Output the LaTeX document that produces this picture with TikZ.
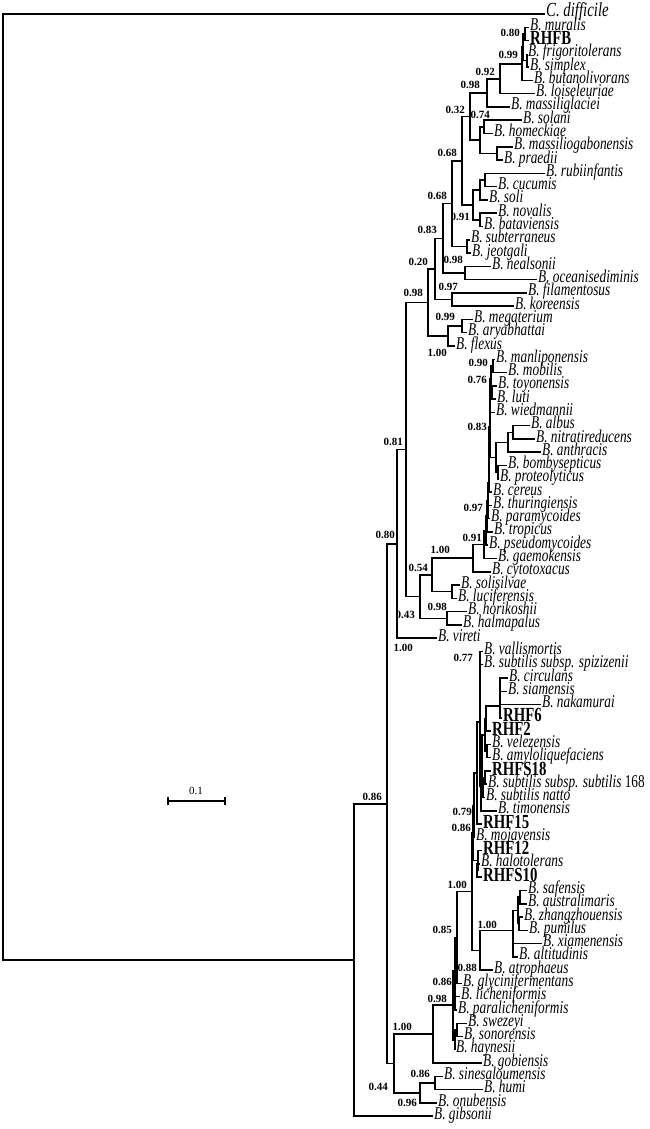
\documentclass[tikz,border=0pt]{standalone}
\usepackage{fontspec}
\setmainfont{Liberation Serif}
\newfontfamily\treefont[FakeStretch=0.74]{Liberation Serif}
\usetikzlibrary{positioning}
\tikzset{
  taxon/.style={anchor=west,inner sep=1pt,text height=0.6em,text depth=0pt,
    font=\treefont\itshape\fontsize{18}{18}\selectfont},
  isolate/.style={anchor=west,inner sep=1pt,text height=0.8em,text depth=0pt,
    font=\treefont\bfseries\fontsize{20}{20}\selectfont},
  boot/.style={anchor=east,inner sep=0pt,font=\bfseries\fontsize{11}{11}\selectfont},
  branch/.style={line width=1.5pt},
}
\begin{document}
\begin{tikzpicture}[x=1pt,y=-1pt]
  \useasboundingbox (0,0) rectangle (650,1129);
  % leaves
  \node[taxon,font=\treefont\itshape\fontsize{20}{20}\selectfont] (difficile) at (545,14.0) {C. difficile};
  \node[taxon] (muralis) at (529,27.3) {B. muralis};
  \node[isolate] (RHFB) at (529,40.6) {RHFB};
  \node[taxon] (frigoritolerans) at (527,53.8) {B. frigoritolerans};
  \node[taxon] (simplex) at (529,67.1) {B. simplex};
  \node[taxon] (butanolivorans) at (533,80.4) {B. butanolivorans};
  \node[taxon] (loiseleuriae) at (535,93.7) {B. loiseleuriae};
  \node[taxon] (massiliglaciei) at (510,107.0) {B. massiliglaciei};
  \node[taxon] (solani) at (522,120.2) {B. solani};
  \node[taxon] (homeckiae) at (493,133.5) {B. homeckiae};
  \node[taxon] (massiliogabonensis) at (513,146.8) {B. massiliogabonensis};
  \node[taxon] (praedii) at (503,160.1) {B. praedii};
  \node[taxon] (rubiinfantis) at (545,173.4) {B. rubiinfantis};
  \node[taxon] (cucumis) at (497,186.6) {B. cucumis};
  \node[taxon] (soli) at (488,199.9) {B. soli};
  \node[taxon] (novalis) at (497,213.2) {B. novalis};
  \node[taxon] (bataviensis) at (483,226.5) {B. bataviensis};
  \node[taxon] (subterraneus) at (470,239.8) {B. subterraneus};
  \node[taxon] (jeotgali) at (471,253.0) {B. jeotgali};
  \node[taxon] (nealsonii) at (491,266.3) {B. nealsonii};
  \node[taxon] (oceanisediminis) at (537,279.6) {B. oceanisediminis};
  \node[taxon] (filamentosus) at (527,292.9) {B. filamentosus};
  \node[taxon] (koreensis) at (514,306.2) {B. koreensis};
  \node[taxon] (megaterium) at (473,319.4) {B. megaterium};
  \node[taxon] (aryabhattai) at (467,332.7) {B. aryabhattai};
  \node[taxon] (flexus) at (455,346.0) {B. flexus};
  \node[taxon] (manliponensis) at (495,359.3) {B. manliponensis};
  \node[taxon] (mobilis) at (507,372.6) {B. mobilis};
  \node[taxon] (toyonensis) at (497,385.8) {B. toyonensis};
  \node[taxon] (luti) at (496,399.1) {B. luti};
  \node[taxon] (wiedmannii) at (495,412.4) {B. wiedmannii};
  \node[taxon] (albus) at (530,425.7) {B. albus};
  \node[taxon] (nitratireducens) at (535,439.0) {B. nitratireducens};
  \node[taxon] (anthracis) at (541,452.2) {B. anthracis};
  \node[taxon] (bombysepticus) at (507,465.5) {B. bombysepticus};
  \node[taxon] (proteolyticus) at (499,478.8) {B. proteolyticus};
  \node[taxon] (cereus) at (492,492.1) {B. cereus};
  \node[taxon] (thuringiensis) at (492,505.4) {B. thuringiensis};
  \node[taxon] (paramycoides) at (490,518.6) {B. paramycoides};
  \node[taxon] (tropicus) at (493,531.9) {B. tropicus};
  \node[taxon] (pseudomycoides) at (488,545.2) {B. pseudomycoides};
  \node[taxon] (gaemokensis) at (497,558.5) {B. gaemokensis};
  \node[taxon] (cytotoxacus) at (491,571.8) {B. cytotoxacus};
  \node[taxon] (solisilvae) at (460,585.0) {B. solisilvae};
  \node[taxon] (luciferensis) at (457,598.3) {B. luciferensis};
  \node[taxon] (horikoshii) at (467,611.6) {B. horikoshii};
  \node[taxon] (halmapalus) at (462,624.9) {B. halmapalus};
  \node[taxon] (vireti) at (437,638.2) {B. vireti};
  \node[taxon] (vallismortis) at (483,651.4) {B. vallismortis};
  \node[taxon] (spizizenii) at (483,664.7) {B. subtilis subsp. spizizenii};
  \node[taxon] (circulans) at (508,678.0) {B. circulans};
  \node[taxon] (siamensis) at (507,691.3) {B. siamensis};
  \node[taxon] (nakamurai) at (541,704.6) {B. nakamurai};
  \node[isolate] (RHF6) at (502,717.8) {RHF6};
  \node[isolate] (RHF2) at (491,731.1) {RHF2};
  \node[taxon] (velezensis) at (491,744.4) {B. velezensis};
  \node[taxon] (amyloliquefaciens) at (491,757.7) {B. amyloliquefaciens};
  \node[isolate] (RHFS18) at (491,771.0) {RHFS18};
  \node[taxon] (subtilis168) at (487,784.2) {B. subtilis subsp. subtilis {\upshape 168}};
  \node[taxon] (natto) at (485,797.5) {B. subtilis natto};
  \node[taxon] (timonensis) at (497,810.8) {B. timonensis};
  \node[isolate] (RHF15) at (482,824.1) {RHF15};
  \node[taxon] (mojavensis) at (475,837.4) {B. mojavensis};
  \node[isolate] (RHF12) at (482,850.6) {RHF12};
  \node[taxon] (halotolerans) at (480,863.9) {B. halotolerans};
  \node[isolate] (RHFS10) at (482,877.2) {RHFS10};
  \node[taxon] (safensis) at (527,890.5) {B. safensis};
  \node[taxon] (australimaris) at (527,903.8) {B. australimaris};
  \node[taxon] (zhangzhouensis) at (523,917.0) {B. zhangzhouensis};
  \node[taxon] (pumilus) at (528,930.3) {B. pumilus};
  \node[taxon] (xiamenensis) at (542,943.6) {B. xiamenensis};
  \node[taxon] (altitudinis) at (518,956.9) {B. altitudinis};
  \node[taxon] (atrophaeus) at (493,970.2) {B. atrophaeus};
  \node[taxon] (glycinifermentans) at (462,983.4) {B. glycinifermentans};
  \node[taxon] (licheniformis) at (460,996.7) {B. licheniformis};
  \node[taxon] (paralicheniformis) at (457,1010.0) {B. paralicheniformis};
  \node[taxon] (swezeyi) at (467,1023.3) {B. swezeyi};
  \node[taxon] (sonorensis) at (463,1036.6) {B. sonorensis};
  \node[taxon] (haynesii) at (455,1049.8) {B. haynesii};
  \node[taxon] (gobiensis) at (482,1063.1) {B. gobiensis};
  \node[taxon] (sinesaloumensis) at (443,1076.4) {B. sinesaloumensis};
  \node[taxon] (humi) at (483,1089.7) {B. humi};
  \node[taxon] (onubensis) at (437,1103.0) {B. onubensis};
  \node[taxon] (gibsonii) at (433,1116.2) {B. gibsonii};
  % internal nodes
  \coordinate (nB) at (525,34.0);
  \coordinate (nB2) at (527,60.5);
  \coordinate (nB0) at (523,47.2);
  \coordinate (nA) at (522,63.8);
  \coordinate (nC) at (500,78.8);
  \coordinate (nD) at (487,92.9);
  \coordinate (nG) at (484,126.9);
  \coordinate (nH) at (497,153.5);
  \coordinate (nF) at (480,140.2);
  \coordinate (nE) at (470,116.6);
  \coordinate (nN1) at (485,180.0);
  \coordinate (nN2) at (480,190.0);
  \coordinate (nL) at (480,219.9);
  \coordinate (nM) at (473,204.9);
  \coordinate (nI) at (462,160.8);
  \coordinate (nK) at (467,246.4);
  \coordinate (nO) at (452,203.6);
  \coordinate (nQ) at (465,273.0);
  \coordinate (nP) at (443,238.3);
  \coordinate (nR) at (452,299.6);
  \coordinate (nV) at (435,268.9);
  \coordinate (nS) at (462,326.1);
  \coordinate (nT) at (448,336.0);
  \coordinate (nU) at (428,302.5);
  \coordinate (c1) at (493,366.0);
  \coordinate (c2) at (492,392.5);
  \coordinate (c3) at (491,379.2);
  \coordinate (c4) at (490,395.8);
  \coordinate (nAN1) at (513,432.4);
  \coordinate (nAN) at (508,442.3);
  \coordinate (nBP2) at (498,472.2);
  \coordinate (nBP1) at (496,457.3);
  \coordinate (c5) at (490,426.5);
  \coordinate (cA) at (489,459.3);
  \coordinate (cB) at (488.5,482.4);
  \coordinate (cC) at (488,500.5);
  \coordinate (cD) at (487,516.2);
  \coordinate (cE) at (486,530.7);
  \coordinate (nGM) at (484,544.6);
  \coordinate (nCC) at (473,558.2);
  \coordinate (nSL) at (452,591.7);
  \coordinate (nSC) at (432,575.0);
  \coordinate (nHH) at (447,618.3);
  \coordinate (nHN) at (420,596.6);
  \coordinate (nW) at (406,449.6);
  \coordinate (nY) at (397,543.9);
  \coordinate (s1) at (480,658.1);
  \coordinate (s2) at (500,684.7);
  \coordinate (s3) at (500,694.6);
  \coordinate (s4) at (500,706.2);
  \coordinate (s5) at (486,718.7);
  \coordinate (s6) at (487,751.0);
  \coordinate (s7) at (485,734.9);
  \coordinate (s8) at (485,777.6);
  \coordinate (s9) at (483,787.6);
  \coordinate (s10) at (482,761.3);
  \coordinate (s11) at (481,786.1);
  \coordinate (s12) at (480,722.1);
  \coordinate (f1) at (477,773.1);
  \coordinate (f2) at (474,805.3);
  \coordinate (f5a) at (477,870.6);
  \coordinate (f5) at (478,860.6);
  \coordinate (nSUB) at (473,833.0);
  \coordinate (p1) at (520,897.2);
  \coordinate (p2) at (519,923.7);
  \coordinate (nPG1) at (518,910.4);
  \coordinate (p3) at (513,950.3);
  \coordinate (nPG) at (513,930.4);
  \coordinate (nAT) at (480,950.3);
  \coordinate (nZ) at (472,891.6);
  \coordinate (n85) at (457,937.5);
  \coordinate (n86) at (455,970.4);
  \coordinate (g1) at (457,1030.0);
  \coordinate (g2) at (455,1039.9);
  \coordinate (g3) at (455,1003.4);
  \coordinate (nBB) at (453,1005.2);
  \coordinate (nAA) at (433,1034.1);
  \coordinate (n86c) at (435,1083.1);
  \coordinate (n96) at (420,1093.0);
  \coordinate (nLG) at (394,1063.6);
  \coordinate (nMain) at (387,803.8);
  \coordinate (nIn) at (354,960.0);
  \coordinate (root) at (3,487.0);
  % branches
  \draw[branch] (root) |- (difficile.west) (root) |- (nIn);
  \draw[branch] (nIn) |- (nMain) (nIn) |- (gibsonii.west);
  \draw[branch] (nMain) |- (nY) (nMain) |- (nLG);
  \draw[branch] (nY) |- (nW) (nY) |- (vireti.west);
  \draw[branch] (nW) |- (nU) (nW) |- (nHN);
  \draw[branch] (nU) |- (nV) (nU) |- (nT);
  \draw[branch] (nV) |- (nP) (nV) |- (nR);
  \draw[branch] (nP) |- (nO) (nP) |- (nQ);
  \draw[branch] (nO) |- (nI) (nO) |- (nK);
  \draw[branch] (nI) |- (nE) (nI) |- (nM);
  \draw[branch] (nE) |- (nD) (nE) |- (nF);
  \draw[branch] (nD) |- (nC) (nD) |- (massiliglaciei.west);
  \draw[branch] (nC) |- (nA) (nC) |- (loiseleuriae.west);
  \draw[branch] (nA) |- (nB0) (nA) |- (butanolivorans.west);
  \draw[branch] (nB0) |- (nB) (nB0) |- (nB2);
  \draw[branch] (nB) |- (muralis.west) (nB) |- (RHFB.west);
  \draw[branch] (nB2) |- (frigoritolerans.west) (nB2) |- (simplex.west);
  \draw[branch] (nF) |- (nG) (nF) |- (nH);
  \draw[branch] (nG) |- (solani.west) (nG) |- (homeckiae.west);
  \draw[branch] (nH) |- (massiliogabonensis.west) (nH) |- (praedii.west);
  \draw[branch] (nM) |- (nN2) (nM) |- (nL);
  \draw[branch] (nN2) |- (nN1) (nN2) |- (soli.west);
  \draw[branch] (nN1) |- (rubiinfantis.west) (nN1) |- (cucumis.west);
  \draw[branch] (nL) |- (novalis.west) (nL) |- (bataviensis.west);
  \draw[branch] (nK) |- (subterraneus.west) (nK) |- (jeotgali.west);
  \draw[branch] (nQ) |- (nealsonii.west) (nQ) |- (oceanisediminis.west);
  \draw[branch] (nR) |- (filamentosus.west) (nR) |- (koreensis.west);
  \draw[branch] (nT) |- (nS) (nT) |- (flexus.west);
  \draw[branch] (nS) |- (megaterium.west) (nS) |- (aryabhattai.west);
  \draw[branch] (nHN) |- (nSC) (nHN) |- (nHH);
  \draw[branch] (nHH) |- (horikoshii.west) (nHH) |- (halmapalus.west);
  \draw[branch] (nSC) |- (nCC) (nSC) |- (nSL);
  \draw[branch] (nSL) |- (solisilvae.west) (nSL) |- (luciferensis.west);
  \draw[branch] (nCC) |- (nGM) (nCC) |- (cytotoxacus.west);
  \draw[branch] (nGM) |- (cE) (nGM) |- (gaemokensis.west);
  \draw[branch] (cE) |- (cD) (cE) |- (pseudomycoides.west);
  \draw[branch] (cD) |- (cC) (cD) |- (tropicus.west);
  \draw[branch] (cC) |- (cB) (cC) |- (paramycoides.west);
  \draw[branch] (cB) |- (cA) (cB) |- (thuringiensis.west);
  \draw[branch] (cA) |- (c5) (cA) |- (cereus.west);
  \draw[branch] (c5) |- (c4) (c5) |- (nBP1);
  \draw[branch] (c4) |- (c3) (c4) |- (wiedmannii.west);
  \draw[branch] (c3) |- (c1) (c3) |- (c2);
  \draw[branch] (c1) |- (manliponensis.west) (c1) |- (mobilis.west);
  \draw[branch] (c2) |- (toyonensis.west) (c2) |- (luti.west);
  \draw[branch] (nBP1) |- (nAN) (nBP1) |- (nBP2);
  \draw[branch] (nAN) |- (nAN1) (nAN) |- (anthracis.west);
  \draw[branch] (nAN1) |- (albus.west) (nAN1) |- (nitratireducens.west);
  \draw[branch] (nBP2) |- (bombysepticus.west) (nBP2) |- (proteolyticus.west);
  \draw[branch] (nLG) |- (nAA) (nLG) |- (n96);
  \draw[branch] (n96) |- (n86c) (n96) |- (onubensis.west);
  \draw[branch] (n86c) |- (sinesaloumensis.west) (n86c) |- (humi.west);
  \draw[branch] (nAA) |- (nBB) (nAA) |- (gobiensis.west);
  \draw[branch] (nBB) |- (n86) (nBB) |- (g2);
  \draw[branch] (n86) |- (n85) (n86) |- (g3);
  \draw[branch] (g3) |- (licheniformis.west) (g3) |- (paralicheniformis.west);
  \draw[branch] (g2) |- (g1) (g2) |- (haynesii.west);
  \draw[branch] (g1) |- (swezeyi.west) (g1) |- (sonorensis.west);
  \draw[branch] (n85) |- (nZ) (n85) |- (glycinifermentans.west);
  \draw[branch] (nZ) |- (nSUB) (nZ) |- (nAT);
  \draw[branch] (nAT) |- (nPG) (nAT) |- (atrophaeus.west);
  \draw[branch] (nPG) |- (nPG1) (nPG) |- (p3);
  \draw[branch] (nPG1) |- (p1) (nPG1) |- (p2);
  \draw[branch] (p1) |- (safensis.west) (p1) |- (australimaris.west);
  \draw[branch] (p2) |- (zhangzhouensis.west) (p2) |- (pumilus.west);
  \draw[branch] (p3) |- (xiamenensis.west) (p3) |- (altitudinis.west);
  \draw[branch] (nSUB) |- (f2) (nSUB) |- (f5);
  \draw[branch] (f2) |- (f1) (f2) |- (mojavensis.west);
  \draw[branch] (f1) |- (s12) (f1) |- (RHF15.west);
  \draw[branch] (f5) |- (RHF12.west) (f5) |- (f5a);
  \draw[branch] (f5a) |- (halotolerans.west) (f5a) |- (RHFS10.west);
  \draw[branch] (s12) |- (s1) (s12) |- (s11);
  \draw[branch] (s1) |- (vallismortis.west) (s1) |- (spizizenii.west);
  \draw[branch] (s11) |- (s10) (s11) |- (timonensis.west);
  \draw[branch] (s10) |- (s7) (s10) |- (s9);
  \draw[branch] (s7) |- (s5) (s7) |- (s6);
  \draw[branch] (s5) |- (s4) (s5) |- (RHF2.west);
  \draw[branch] (s4) |- (s3) (s4) |- (RHF6.west);
  \draw[branch] (s3) |- (s2) (s3) |- (nakamurai.west);
  \draw[branch] (s2) |- (circulans.west) (s2) |- (siamensis.west);
  \draw[branch] (s6) |- (velezensis.west) (s6) |- (amyloliquefaciens.west);
  \draw[branch] (s9) |- (s8) (s9) |- (natto.west);
  \draw[branch] (s8) |- (RHFS18.west) (s8) |- (subtilis168.west);
  % bootstrap values
  \node[boot] (b01) at (520,33) {0.80};
  \node[boot] (b02) at (518,55) {0.99};
  \node[boot] (b03) at (495,72) {0.92};
  \node[boot] (b04) at (480,85) {0.98};
  \node[boot] (b05) at (465,110) {0.32};
  \node[boot] (b06) at (490,115) {0.74};
  \node[boot] (b07) at (457,153) {0.68};
  \node[boot] (b08) at (447,196) {0.68};
  \node[boot] (b09) at (470,217) {0.91};
  \node[boot] (b10) at (437,230) {0.83};
  \node[boot] (b11) at (463,260) {0.98};
  \node[boot] (b12) at (428,262) {0.20};
  \node[boot] (b13) at (458,287) {0.97};
  \node[boot] (b14) at (423,293) {0.98};
  \node[boot] (b15) at (455,317) {0.99};
  \node[boot] (b16) at (447,353) {1.00};
  \node[boot] (b17) at (488,363) {0.90};
  \node[boot] (b18) at (487,380) {0.76};
  \node[boot] (b19) at (487,427) {0.83};
  \node[boot] (b20) at (403,442) {0.81};
  \node[boot] (b21) at (483,508) {0.97};
  \node[boot] (b22) at (395,535) {0.80};
  \node[boot] (b23) at (482,538) {0.91};
  \node[boot] (b24) at (450,550) {1.00};
  \node[boot] (b25) at (428,568) {0.54};
  \node[boot] (b26) at (447,607) {0.98};
  \node[boot] (b27) at (415,615) {0.43};
  \node[boot] (b28) at (413,648) {1.00};
  \node[boot] (b29) at (473,658) {0.77};
  \node[boot] (b30) at (382,797) {0.86};
  \node[boot] (b31) at (472,812) {0.79};
  \node[boot] (b32) at (471,828) {0.86};
  \node[boot] (b33) at (467,885) {1.00};
  \node[boot] (b34) at (497,925) {1.00};
  \node[boot] (b35) at (452,930) {0.85};
  \node[boot] (b36) at (477,968) {0.88};
  \node[boot] (b37) at (452,982) {0.86};
  \node[boot] (b38) at (447,999) {0.98};
  \node[boot] (b39) at (412,1027) {1.00};
  \node[boot] (b40) at (430,1074) {0.86};
  \node[boot] (b41) at (388,1087) {0.44};
  \node[boot] (b42) at (417,1103) {0.96};
  % scale bar
  \coordinate (sb1) at (168,801);
  \coordinate (sb2) at (225,801);
  \draw[line width=1.2pt] ([yshift=-4pt]sb1) -- ([yshift=4pt]sb1) (sb1) -- (sb2) ([yshift=-4pt]sb2) -- ([yshift=4pt]sb2);
  \node[font=\fontsize{11}{11}\selectfont,inner sep=1pt] (sblabel) at (196,791) {0.1};
\end{tikzpicture}
\end{document}
